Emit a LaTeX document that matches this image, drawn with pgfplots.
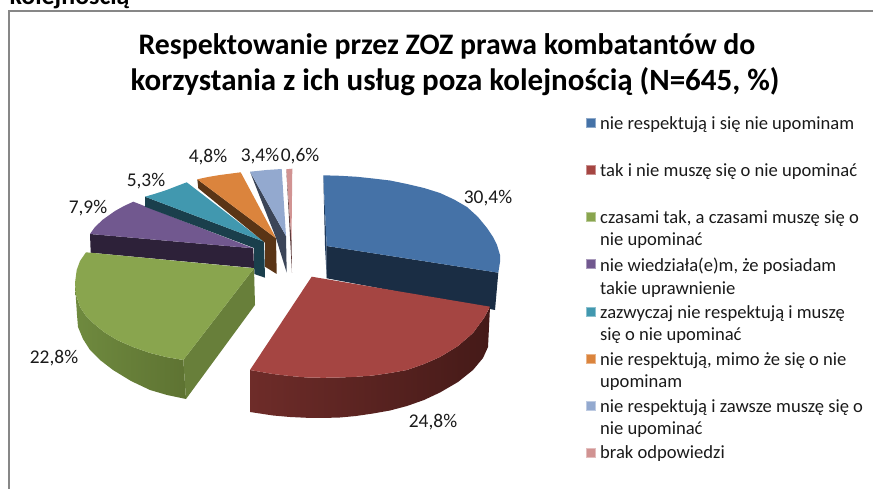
\documentclass[border=0pt]{standalone}
\usepackage{pgfplots}
\pgfplotsset{compat=1.18}
\usepackage{fontspec}
\setmainfont{Carlito}
\definecolor{cb}{HTML}{4572A7}\definecolor{cbd}{HTML}{1A2D44}\definecolor{cbs}{HTML}{1F3A5C}
\definecolor{cr}{HTML}{A54542}\definecolor{crl}{HTML}{6E2C29}\definecolor{crr}{HTML}{451A18}
\definecolor{cg}{HTML}{89A54E}\definecolor{cgl}{HTML}{6F8A3F}\definecolor{cgr}{HTML}{5E7332}\definecolor{cgs}{HTML}{687F3A}
\definecolor{cp}{HTML}{71588F}\definecolor{cpd}{HTML}{2D2139}
\definecolor{ct}{HTML}{4198AF}\definecolor{ctd}{HTML}{1A3F4C}
\definecolor{co}{HTML}{DB843D}\definecolor{cod}{HTML}{5A3516}
\definecolor{cl}{HTML}{93A9CF}\definecolor{cld}{HTML}{3B4558}
\definecolor{ck}{HTML}{D19392}\definecolor{ckd}{HTML}{5C3A3A}
\definecolor{txt}{HTML}{1A1A1A}
\begin{document}
\begin{tikzpicture}[x=1bp,y=1bp]
\useasboundingbox (0,0) rectangle (873,489);
\begin{axis}[at={(0,0)},anchor=south west,scale only axis,width=873bp,height=489bp,
 xmin=0,xmax=873,ymin=0,ymax=489,y dir=reverse,axis lines=none,clip=false]
% frame
\addplot[draw=black!47,line width=1.5pt] coordinates {(9,489) (9,11) (873,11)};
% purple
\addplot[fill=cpd,draw=none] coordinates {(90,234)(253.3,248.3)(254,268)(90.7,252.7)} -- cycle;
\addplot[fill=cp,draw=none] coordinates {(253.3,248.3)(90,234)(95,227)(103,219.5)(115,211)(124,206)(133.3,201.7)} -- cycle;
% teal
\addplot[fill=ctd,draw=none] coordinates {(145,196.7)(264,241.7)(265,277.7)(254.3,274)(254,248)(145,206.7)} -- cycle;
\addplot[fill=ct,draw=none] coordinates {(264,241.7)(145,196.7)(155,193.8)(166.7,190)(177,186)(186.7,182.3)} -- cycle;
% orange
\addplot[fill=cod,draw=none] coordinates {(197.3,179.3)(276,238.3)(276.7,274)(265,266.7)(265,242.7)(198.3,188.3)} -- cycle;
\addplot[fill=co,draw=none] coordinates {(276,238.3)(197.3,179.3)(208,177)(220,175)(240.7,172.3)} -- cycle;
% light blue
\addplot[fill=cld,draw=none] coordinates {(250,171.7)(286,236)(286.7,272.7)(276,238)} -- cycle;
\addplot[fill=cl,draw=none] coordinates {(286,236)(250,171.7)(266.7,170)(281.7,169)} -- cycle;
% pink
\addplot[fill=ckd,draw=none] coordinates {(286.3,169.3)(291.5,240)(292,272.7)} -- cycle;
\addplot[fill=ck,draw=none] coordinates {(286.3,169.3)(292.3,168.7)(291.5,240)} -- cycle;
% blue
\addplot[fill=cbs,draw=none] coordinates {(323.3,175.3)(326.7,246)(326.7,278)(325,246)} -- cycle;
\addplot[fill=cbd,draw=none] coordinates {(326.7,246)(498.3,272.7)(495,310)(326.7,278.3)} -- cycle;
\addplot[fill=cb,draw=none] coordinates {(326.7,246)(323.3,175.3)(340,175.8)(357,176.8)(373,178.5)(390,180.5)(407,184)(424,188)(440,193)(454,199.5)(467,207)(478,217)(487,228)(493,237)(497,245)(500,255)(500,262)(498.3,272.7)} -- cycle;
% green
\addplot[left color=cgl,right color=cgr,draw=none] coordinates {(75,283)(76,300)(77,315)(78,327)(83,339)(90,350)(100,360)(113,370)(131,381)(150,390)(167,395)(186,399)(183.3,360)(166,357)(150,353)(133,347)(117,340)(104,332)(93,323)(86,316)(80,307)(76,295)} -- cycle;
\addplot[fill=cgs,draw=none] coordinates {(183.3,360)(254,268.3)(255,305)(186,399)} -- cycle;
\addplot[fill=cg,draw=none] coordinates {(254,268.3)(86,252.3)(80,261)(76.7,270)(75,283)(76,295)(80,307)(86,316)(93,323)(104,332)(117,340)(133,347)(150,353)(166,357)(183.3,360)} -- cycle;
% red
\addplot[left color=crl,right color=crr,draw=none] coordinates {(250,370)(250,412)(273,415.5)(290,417)(307,417.8)(323,418)(340,417.5)(356,416)(373,413.5)(390,410.5)(407,406)(424,400)(440,392.5)(458,382)(473,370)(483,358)(488,347)(490,307)(484,318)(473,333)(458,346)(440,357)(424,364)(407,370)(390,373)(373,375.5)(356,376.8)(340,377.5)(323,377.8)(307,377.5)(290,376)(273,374)} -- cycle;
\addplot[fill=cr,draw=none] coordinates {(311.7,276.7)(490,306.7)(484,318)(473,333)(458,346)(440,357)(424,364)(407,370)(390,373)(373,375.5)(356,376.8)(340,377.5)(323,377.8)(307,377.5)(290,376)(273,374)(250,370)} -- cycle;
% title and caption
\node[anchor=base west,inner sep=0pt,font=\fontsize{26}{26}\selectfont\bfseries,text=black] at (axis cs:9.5,5) {kolejnością};
\node[font=\fontsize{29.9}{36}\selectfont\bfseries,text=black] at (axis cs:447,46) {Respektowanie przez ZOZ prawa kombatantów do};
\node[font=\fontsize{31.1}{37.5}\selectfont\bfseries,text=black] at (axis cs:455,82) {korzystania z ich usług poza kolejnością (N=645, \%)};
% data labels
\begin{scope}[every node/.style={font=\fontsize{19.5}{19.5}\selectfont,text=txt}]
\node at (axis cs:488,198) {30,4\%};
\node at (axis cs:433,422) {24,8\%};
\node at (axis cs:54,358) {22,8\%};
\node at (axis cs:88,208) {7,9\%};
\node at (axis cs:146,181) {5,3\%};
\node at (axis cs:208,157) {4,8\%};
\node at (axis cs:260,156) {3,4\%};
\node at (axis cs:300,156) {0,6\%};
\end{scope}
% legend
\addplot[only marks,mark=square*,mark size=4.5bp,mark options={fill=cb,draw=cb!60}] coordinates {(591,123)};
\addplot[only marks,mark=square*,mark size=4.5bp,mark options={fill=cr,draw=cr!60}] coordinates {(591,170)};
\addplot[only marks,mark=square*,mark size=4.5bp,mark options={fill=cg,draw=cg!60}] coordinates {(591,217)};
\addplot[only marks,mark=square*,mark size=4.5bp,mark options={fill=cp,draw=cp!60}] coordinates {(591,264)};
\addplot[only marks,mark=square*,mark size=4.5bp,mark options={fill=ct,draw=ct!60}] coordinates {(591,312)};
\addplot[only marks,mark=square*,mark size=4.5bp,mark options={fill=co,draw=co!60}] coordinates {(591,359)};
\addplot[only marks,mark=square*,mark size=4.5bp,mark options={fill=cl,draw=cl!60}] coordinates {(591,406)};
\addplot[only marks,mark=square*,mark size=4.5bp,mark options={fill=ck,draw=ck!60}] coordinates {(591,453)};
\begin{scope}[every node/.style={anchor=west,align=left,font=\fontsize{18.65}{22.6}\selectfont,text=txt,inner sep=0pt}]
\node at (axis cs:600,124.5) {nie respektują i się nie upominam};
\node at (axis cs:600,171.5) {tak i nie muszę się o nie upominać};
\node at (axis cs:600,229.5) {czasami tak, a czasami muszę się o\\nie upominać};
\node at (axis cs:600,277.5) {nie wiedziała(e)m, że posiadam\\takie uprawnienie};
\node at (axis cs:600,324.5) {zazwyczaj nie respektują i muszę\\się o nie upominać};
\node at (axis cs:600,371.5) {nie respektują, mimo że się o nie\\upominam};
\node at (axis cs:600,418.5) {nie respektują i zawsze muszę się o\\nie upominać};
\node at (axis cs:600,453.5) {brak odpowiedzi};
\end{scope}
\end{axis}
\end{tikzpicture}
\end{document}
